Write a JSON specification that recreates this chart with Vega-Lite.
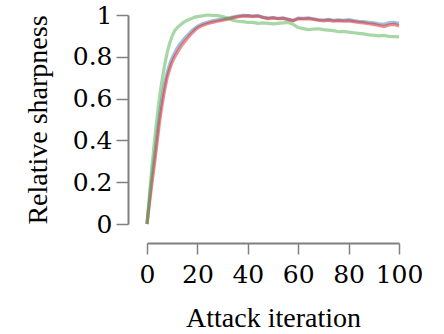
{
  "$schema": "https://vega.github.io/schema/vega-lite/v6.json",
  "autosize": {"type": "none"},
  "padding": {"left": 147, "top": 15, "right": 45, "bottom": 110},
  "width": 252,
  "height": 209,
  "background": "white",
  "config": {
    "view": {"stroke": null},
    "font": "Liberation Serif",
    "axis": {
      "grid": false,
      "domainColor": "#808080",
      "domainWidth": 2,
      "tickColor": "#808080",
      "tickWidth": 1.5,
      "labelFont": "DejaVu Serif",
      "titleFont": "Liberation Serif",
      "labelFontSize": 25,
      "titleFontSize": 28,
      "labelColor": "black",
      "titleColor": "black",
      "titleFontWeight": "normal",
      "labelOverlap": false,
      "labelBound": false,
      "labelFlush": false
    }
  },
  "data": {
    "values": [
      {"i": 0, "blue": 0, "red": 0, "green": 0},
      {"i": 1, "blue": 0.12, "red": 0.1, "green": 0.14},
      {"i": 2, "blue": 0.235, "red": 0.2, "green": 0.28},
      {"i": 3, "blue": 0.33, "red": 0.29, "green": 0.4},
      {"i": 4, "blue": 0.43, "red": 0.39, "green": 0.51},
      {"i": 5, "blue": 0.53, "red": 0.49, "green": 0.61},
      {"i": 6, "blue": 0.61, "red": 0.57, "green": 0.69},
      {"i": 7, "blue": 0.675, "red": 0.64, "green": 0.76},
      {"i": 8, "blue": 0.725, "red": 0.7, "green": 0.82},
      {"i": 9, "blue": 0.765, "red": 0.74, "green": 0.865},
      {"i": 10, "blue": 0.795, "red": 0.775, "green": 0.9},
      {"i": 11, "blue": 0.82, "red": 0.8, "green": 0.925},
      {"i": 12, "blue": 0.842, "red": 0.82, "green": 0.94},
      {"i": 13, "blue": 0.86, "red": 0.84, "green": 0.95},
      {"i": 14, "blue": 0.876, "red": 0.858, "green": 0.96},
      {"i": 15, "blue": 0.89, "red": 0.873, "green": 0.968},
      {"i": 16, "blue": 0.903, "red": 0.888, "green": 0.975},
      {"i": 17, "blue": 0.915, "red": 0.902, "green": 0.98},
      {"i": 18, "blue": 0.927, "red": 0.915, "green": 0.985},
      {"i": 19, "blue": 0.937, "red": 0.927, "green": 0.99},
      {"i": 20, "blue": 0.946, "red": 0.937, "green": 0.992},
      {"i": 22, "blue": 0.958, "red": 0.95, "green": 0.996},
      {"i": 24, "blue": 0.965, "red": 0.958, "green": 1.0},
      {"i": 26, "blue": 0.972, "red": 0.965, "green": 0.998},
      {"i": 28, "blue": 0.977, "red": 0.97, "green": 0.997},
      {"i": 30, "blue": 0.98, "red": 0.975, "green": 0.992},
      {"i": 32, "blue": 0.984, "red": 0.98, "green": 0.985},
      {"i": 34, "blue": 0.99, "red": 0.986, "green": 0.975},
      {"i": 36, "blue": 0.995, "red": 0.991, "green": 0.97},
      {"i": 38, "blue": 0.998, "red": 0.995, "green": 0.968},
      {"i": 40, "blue": 0.997, "red": 0.996, "green": 0.965},
      {"i": 42, "blue": 0.995, "red": 0.993, "green": 0.965},
      {"i": 44, "blue": 0.997, "red": 0.995, "green": 0.96},
      {"i": 46, "blue": 0.99, "red": 0.988, "green": 0.962},
      {"i": 48, "blue": 0.985, "red": 0.983, "green": 0.96},
      {"i": 50, "blue": 0.988, "red": 0.986, "green": 0.958},
      {"i": 52, "blue": 0.984, "red": 0.982, "green": 0.96},
      {"i": 54, "blue": 0.986, "red": 0.984, "green": 0.962},
      {"i": 56, "blue": 0.98, "red": 0.978, "green": 0.965},
      {"i": 58, "blue": 0.975, "red": 0.972, "green": 0.955},
      {"i": 60, "blue": 0.985, "red": 0.982, "green": 0.94},
      {"i": 62, "blue": 0.984, "red": 0.981, "green": 0.935},
      {"i": 64, "blue": 0.986, "red": 0.983, "green": 0.93},
      {"i": 66, "blue": 0.982, "red": 0.979, "green": 0.932},
      {"i": 68, "blue": 0.978, "red": 0.975, "green": 0.934},
      {"i": 70, "blue": 0.976, "red": 0.972, "green": 0.93},
      {"i": 72, "blue": 0.979, "red": 0.975, "green": 0.928},
      {"i": 74, "blue": 0.975, "red": 0.971, "green": 0.925},
      {"i": 76, "blue": 0.977, "red": 0.973, "green": 0.92},
      {"i": 78, "blue": 0.975, "red": 0.971, "green": 0.922},
      {"i": 80, "blue": 0.978, "red": 0.972, "green": 0.918},
      {"i": 82, "blue": 0.973, "red": 0.968, "green": 0.915},
      {"i": 84, "blue": 0.97, "red": 0.965, "green": 0.912},
      {"i": 86, "blue": 0.968, "red": 0.962, "green": 0.91},
      {"i": 88, "blue": 0.965, "red": 0.958, "green": 0.905},
      {"i": 90, "blue": 0.962, "red": 0.955, "green": 0.903},
      {"i": 92, "blue": 0.958, "red": 0.95, "green": 0.9},
      {"i": 94, "blue": 0.955, "red": 0.945, "green": 0.902},
      {"i": 96, "blue": 0.962, "red": 0.952, "green": 0.898},
      {"i": 98, "blue": 0.965, "red": 0.955, "green": 0.897},
      {"i": 100, "blue": 0.96, "red": 0.948, "green": 0.895}
    ]
  },
  "transform": [{"fold": ["blue", "red", "green"], "as": ["series", "value"]}],
  "mark": {"type": "line", "strokeWidth": 3.2, "strokeOpacity": 0.5, "clip": false},
  "encoding": {
    "x": {
      "field": "i", "type": "quantitative",
      "scale": {"domain": [0, 100], "nice": false},
      "axis": {"title": "Attack iteration", "values": [0, 20, 40, 60, 80, 100], "offset": 19, "tickSize": 11, "labelPadding": 8, "titlePadding": 17, "labelOverlap": false}
    },
    "y": {
      "field": "value", "type": "quantitative",
      "scale": {"domain": [0, 1], "nice": false},
      "axis": {"title": "Relative sharpness", "values": [0, 0.2, 0.4, 0.6, 0.8, 1], "format": "~g", "offset": 19, "tickSize": 12, "labelPadding": 4, "titlePadding": 20, "labelOverlap": false}
    },
    "color": {
      "field": "series", "type": "nominal",
      "scale": {"domain": ["blue", "red", "green"], "range": ["#377eb8", "#e41a1c", "#4daf4a"]},
      "legend": null
    },
    "order": {"field": "i", "type": "quantitative"}
  }
}
